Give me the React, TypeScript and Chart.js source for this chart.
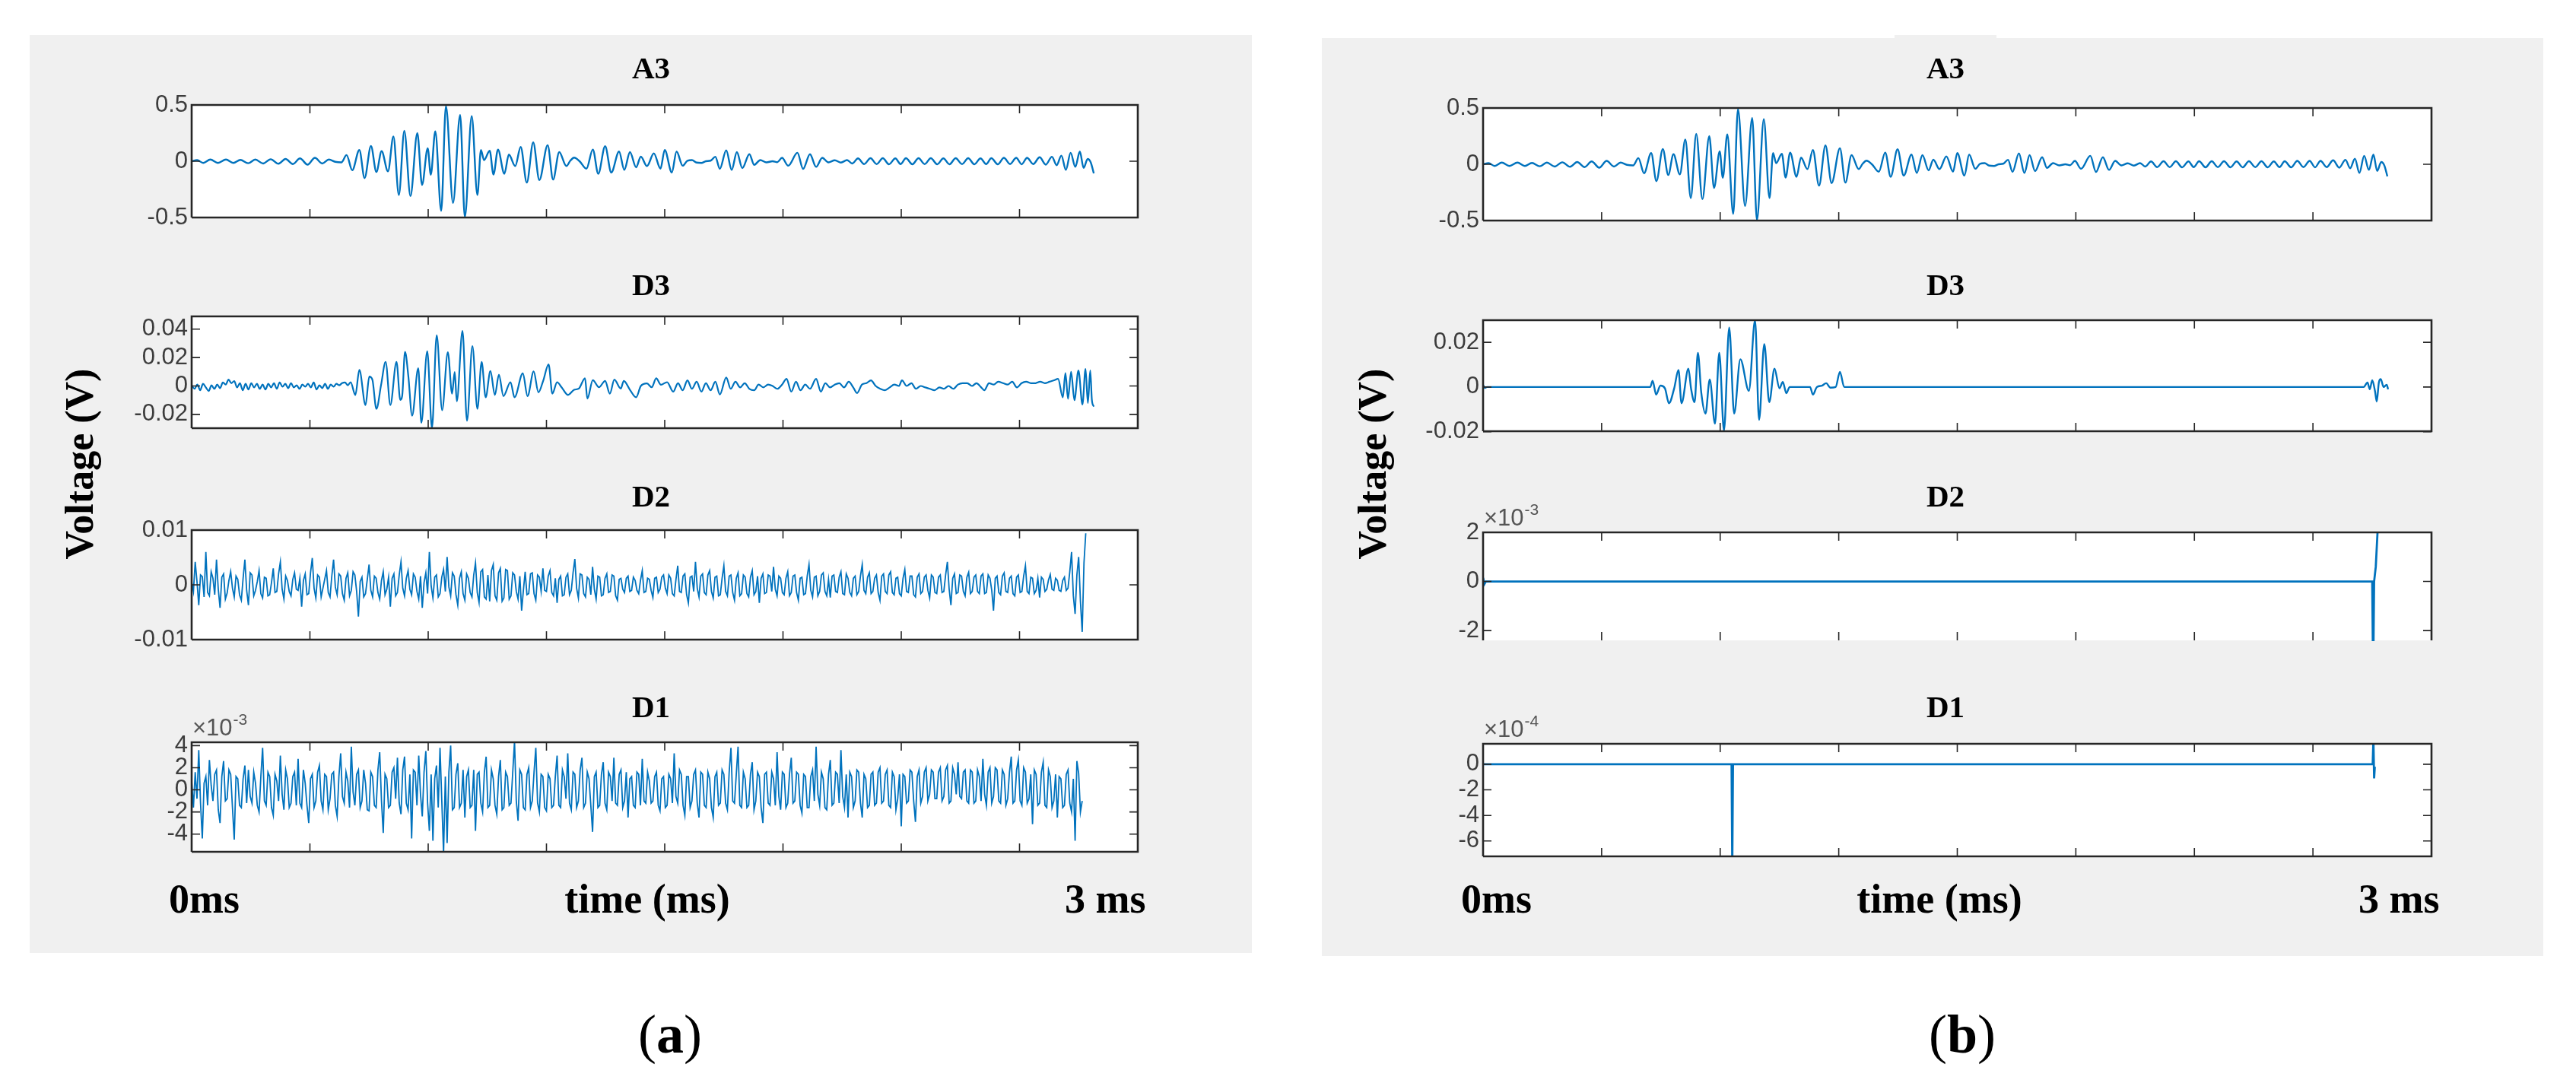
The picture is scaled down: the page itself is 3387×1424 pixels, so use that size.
import React, { useEffect, useRef } from 'react';
import { Chart, registerables } from 'chart.js';

Chart.register(...registerables);

// ---------- data ----------
// time axis in samples; MATLAB ticks every 500 samples
const xTickSamples = [0, 500, 1000, 1500, 2000, 2500, 3000, 3500, 4000];
const xMaxSamples = 4000;
const noiseStep = 7.5; // sample spacing of the noise series below

// A3 approximation (V): [sample, value]
const a3Samples: [number, number][] = [
  [0, 0], [23, 0.01], [49, -0.015], [79, 0.015], [111, -0.015], [145, 0.015], [176, -0.015], [206, 0.012], [239, -0.018], [269, 0.015],
  [302, -0.02], [334, 0.018], [367, -0.022], [397, 0.02], [428, -0.025], [458, 0.025], [490, -0.03], [521, 0.03], [552, -0.02], [580, 0.015],
  [607, -0.005], [633, -0.01], [655, 0.055], [679, -0.08], [709, 0.1], [731, -0.15], [758, 0.135], [781, -0.095], [803, 0.09], [830, -0.09],
  [853, 0.22], [876, -0.3], [899, 0.27], [925, -0.31], [954, 0.25], [974, -0.21], [998, 0.115], [1011, -0.12], [1030, 0.265], [1055, -0.44],
  [1075, 0.49], [1105, -0.37], [1135, 0.41], [1155, -0.495], [1184, 0.4], [1208, -0.3], [1223, 0.1], [1236, 0.01], [1260, 0.093], [1276, -0.118],
  [1295, 0.104], [1322, -0.111], [1341, 0.059], [1368, -0.043], [1391, 0.127], [1417, -0.19], [1444, 0.167], [1470, -0.167], [1505, 0.143], [1528, -0.163],
  [1554, 0.081], [1584, -0.043], [1601, 0.005], [1617, 0.032], [1640, 0], [1669, -0.066], [1696, 0.104], [1719, -0.111], [1748, 0.133], [1774, -0.1],
  [1807, 0.086], [1829, -0.077], [1853, 0.081], [1879, -0.054], [1899, 0.041], [1925, -0.043], [1954, 0.07], [1982, -0.066], [2000, 0.1], [2030, -0.1],
  [2050, 0.086], [2076, -0.04], [2096, 0.005], [2115, 0.01], [2135, -0.012], [2155, -0.015], [2174, 0], [2194, 0.005], [2214, 0.04], [2233, -0.068],
  [2260, 0.097], [2283, -0.077], [2305, 0.081], [2328, -0.061], [2358, 0.063], [2378, -0.032], [2404, 0.01], [2430, -0.01], [2456, 0], [2476, -0.008],
  [2496, 0.03], [2522, -0.04], [2561, 0.075], [2585, -0.068], [2614, 0.063], [2640, -0.05], [2666, 0.03], [2692, -0.01], [2719, 0.008], [2745, -0.012],
  [2771, 0.01], [2793, -0.02], [2817, 0.025], [2843, -0.025], [2870, 0.027], [2896, -0.025], [2922, 0.027], [2948, -0.027], [2975, 0.025], [2997, -0.025],
  [3020, 0.027], [3047, -0.027], [3073, 0.027], [3099, -0.025], [3125, 0.027], [3152, -0.027], [3178, 0.025], [3204, -0.027], [3230, 0.027], [3257, -0.025],
  [3283, 0.027], [3309, -0.027], [3335, 0.025], [3359, -0.025], [3381, 0.027], [3408, -0.027], [3434, 0.03], [3460, -0.025], [3486, 0.03], [3509, -0.027],
  [3532, 0.03], [3558, -0.025], [3585, 0.035], [3611, -0.03], [3637, 0.04], [3657, -0.035], [3677, 0.05], [3696, -0.077], [3716, 0.075], [3736, -0.05],
  [3755, 0.086], [3771, -0.06], [3788, 0.02], [3801, -0.01], [3814, -0.107],
];

// D3 detail, panel (a) (V)
const d3aSamples: [number, number][] = [
  [0, 0.0005], [12, -0.002], [24, 0.001], [36, -0.003], [48, 0.0015], [60, -0.001], [72, -0.0035], [84, 0.0005], [96, -0.002], [108, 0.001],
  [120, -0.0015], [132, 0.0025], [144, 0.001], [156, 0.0045], [168, 0.002], [180, 0.0035], [192, -0.001], [204, 0.002], [216, -0.003], [228, 0.0015],
  [240, -0.0025], [252, 0.002], [264, -0.001], [276, 0.0015], [288, -0.002], [300, 0.001], [312, -0.0025], [324, 0.0015], [336, -0.001], [348, 0.002],
  [360, -0.002], [372, 0.0025], [384, -0.0005], [396, 0.0015], [408, -0.0015], [420, 0.002], [432, -0.001], [444, 0.0005], [456, -0.002], [468, 0.001],
  [480, -0.0005], [492, 0.0015], [504, -0.001], [516, 0.0025], [528, -0.0025], [540, 0.0005], [552, -0.0015], [564, 0.0015], [576, -0.002], [588, 0.001],
  [600, -0.0005], [612, 0.0015], [624, 0.0005], [636, 0.002], [648, 0.0025], [660, 0.0005],
  [672, 0.0027], [692, -0.0063], [709, 0.0113], [735, -0.0134], [751, 0.0066], [764, 0.0045], [781, -0.0161], [801, 0.0009], [820, 0.017], [840, -0.0134],
  [866, 0.017], [882, -0.0098], [890, -0.0071], [902, 0.0241], [916, 0.0071], [932, -0.0209], [958, 0.0125], [971, -0.0259], [996, 0.0245], [1016, -0.0295],
  [1036, 0.0357], [1059, -0.017], [1083, 0.0238], [1101, -0.0054], [1112, 0.0098], [1121, -0.0107], [1145, 0.0388], [1164, -0.0245], [1187, 0.028], [1208, -0.0161],
  [1226, 0.017], [1243, -0.008], [1263, 0.0105], [1282, -0.0063], [1299, 0.008], [1318, -0.0071], [1348, 0.0027], [1365, -0.008], [1400, 0.0089], [1420, -0.0071],
  [1446, 0.0102], [1466, -0.0045], [1486, 0.0036], [1509, 0.0152], [1525, -0.0054], [1545, 0.0027], [1564, -0.0009], [1591, -0.0063], [1617, -0.0027], [1637, -0.0018],
  [1663, 0.0054], [1673, -0.0089], [1696, 0.0041], [1722, -0.0009], [1748, 0.0036], [1768, -0.0054], [1787, 0.0045], [1814, -0.0018], [1827, 0.0036], [1853, -0.0027],
  [1879, -0.008], [1899, 0], [1925, 0.0018], [1945, -0.0009], [1964, 0.0054], [1984, 0.0009], [2010, 0.0027], [2036, -0.004],
  [2056, 0.002], [2076, -0.003], [2096, 0.004], [2115, -0.002], [2135, 0.003], [2155, -0.004], [2174, 0.002], [2194, -0.003], [2214, 0.003], [2233, -0.006],
  [2260, 0.006], [2279, -0.002], [2299, 0.003], [2319, -0.001], [2338, 0.002], [2358, -0.002], [2378, -0.003], [2397, 0.001], [2417, -0.001], [2437, 0.001],
  [2456, 0], [2476, -0.002], [2496, 0.001], [2515, 0.005], [2535, -0.004], [2555, 0.003], [2574, -0.003], [2594, 0.001], [2614, -0.002], [2640, 0.005],
  [2660, -0.004], [2679, 0.002], [2699, -0.001], [2719, 0.001], [2738, 0.002], [2758, -0.001], [2778, 0.003], [2797, -0.001], [2813, -0.005], [2834, 0.001],
  [2853, 0.002], [2872, 0.004], [2892, 0], [2912, -0.002], [2931, -0.003], [2951, -0.001], [2971, 0.001], [2990, 0], [3003, 0.004], [3023, 0],
  [3043, 0.002], [3062, -0.002], [3082, 0], [3102, -0.001], [3121, -0.002], [3141, -0.003], [3161, -0.001], [3180, -0.002], [3200, 0], [3220, -0.002],
  [3240, 0.001], [3259, 0.002], [3279, 0.002], [3299, 0], [3318, 0.002], [3338, -0.001], [3351, -0.003], [3371, 0.002], [3391, 0.001], [3410, 0.003],
  [3430, 0.002], [3450, 0.001], [3469, 0.003], [3489, -0.001], [3509, 0.002], [3528, 0.003], [3548, 0.002], [3568, 0.002], [3587, 0.003], [3607, 0.002],
  [3627, 0.003], [3646, 0.004], [3663, 0.005], [3683, -0.008], [3694, 0.009], [3705, -0.009], [3718, 0.01], [3732, -0.01], [3749, 0.011], [3766, -0.013],
  [3779, 0.012], [3789, -0.012], [3799, 0.011], [3806, -0.01], [3814, -0.0145],
];

// D2 detail, panel (a), in mV, one value every noiseStep samples
const d2aMilliVolts = [
  0.5, -1.2, 4.2, 0.6, -3.7, 1.8, 1.5, -2.2, 6.0, -1.4, -2.0, 2.4, 1.2, -1.8, 4.6, -0.8, -4.2, 1.4, 2.0, -2.6,
  -1.5, 0.8, 2.4, -0.6, -2.2, 1.6, 1.0, -1.8, -2.8, 1.2, 4.6, -1.0, -3.7, 2.2, 1.8, -2.0, -1.0, 0.6, 2.6, -1.6,
  -2.4, 1.4, 1.2, -2.0, -1.8, 0.4, 3.0, -1.4, -1.2, 2.0, 4.2, -0.8, -2.6, 1.6, 0.8, -1.2, -2.0, 1.0, 2.2, -0.8,
  -1.0, 1.2, -4.0, 0.8, 2.0, -1.8, -1.6, 2.2, 4.9, -0.6, -2.4, 1.8, 1.4, -2.2, -0.6, 1.0, 2.6, -1.4, -2.2, 1.6,
  4.6, -0.4, -1.8, 2.0, 1.6, -1.6, -2.8, 1.2, 2.2, -2.0, -1.0, 2.4, 1.8, -1.2, -5.8, 0.6, 1.4, -2.2, -1.6, 1.0,
  3.7, -1.0, -2.2, 1.6, 1.2, -1.4, -2.6, 0.8, 2.4, -1.8, -0.8, 1.4, -4.0, 1.2, 2.0, -2.0, -1.4, 1.8, 4.2, -0.6,
  -2.0, 1.2, 2.6, -0.8, -1.8, 2.0, 1.4, -1.2, -2.6, 1.6, -4.2, 0.4, 2.2, -1.6, 6.0, -0.2, -2.4, 1.4, 1.8, -2.2,
  -1.6, 1.4, 2.8, -1.2, 5.1, -0.4, -2.0, 2.2, 1.6, -1.8, -3.7, 1.2, 2.4, -1.6, -2.8, 2.0, 1.2, -1.4, -2.2, 1.8,
  4.0, -1.4, -3.2, 2.4, 2.8, -2.2, -2.6, 1.8, -3.0, 2.6, 3.7, -2.0, -2.8, 2.2, 3.0, -3.0, -2.4, 2.8, 2.6, -2.6,
  -2.0, 2.2, 1.8, -1.2, -2.6, 1.6, -4.7, -1.0, 2.4, -1.8, -1.6, 2.0, 2.2, -1.6, -2.8, 1.8, 1.4, -1.2, 3.0, -1.0,
  -1.2, 1.6, 2.6, -1.4, -2.0, 1.2, -3.3, 1.0, 1.6, -2.0, -1.8, 1.4, 2.0, -1.8, -1.0, 2.2, 4.7, -0.6, -2.4, 2.0,
  1.8, -1.6, -2.2, 1.4, 1.0, -1.8, 3.3, -0.8, -2.6, 1.6, 1.4, -2.0, -1.8, 1.2, 2.0, -1.4, -1.2, 1.8, 1.6, -2.0,
  -2.8, 1.0, 1.2, -0.8, -1.4, 1.2, 1.6, -1.2, -1.0, 1.4, 0.8, -1.0, -1.6, 0.8, 2.6, -1.4, -1.2, 1.2, 1.0, -1.0,
  -2.3, 1.2, 1.4, -1.4, -0.8, 1.4, 1.8, -0.6, -1.6, 1.8, 1.2, -1.6, -2.0, 1.0, 3.5, -1.2, -1.4, 1.6, 2.0, -1.8,
  -3.3, 1.4, 1.6, -1.2, 4.2, -0.6, -2.2, 1.6, 2.0, -1.4, -1.8, 1.8, 2.6, -1.2, -2.4, 1.4, 1.6, -2.0, -1.8, 1.2,
  3.5, -1.2, -2.0, 1.6, 1.8, -1.4, -2.8, 1.2, 2.2, -2.0, -1.6, 1.8, 1.4, -1.6, -2.2, 1.4, 2.6, -1.8, -1.2, 1.6,
  -3.3, 1.2, 2.0, -1.6, -1.4, 1.8, 1.6, -1.2, 3.3, -0.8, -2.0, 1.6, 1.2, -1.4, -1.8, 1.2, 2.4, -2.0, -1.4, 1.6,
  1.8, -1.4, -2.8, 1.2, 1.4, -1.8, -1.6, 1.6, 3.7, -1.0, -2.2, 1.4, 1.6, -2.0, -1.2, 1.8, 2.2, -1.2, -2.0, 1.0,
  -2.3, 1.6, 1.8, -1.2, -1.4, 1.4, 2.4, -1.6, -1.8, 2.0, 1.2, -1.4, -2.0, 1.2, 1.6, -1.8, -1.2, 1.6, 3.7, -1.0,
  -1.6, 1.4, 2.2, -1.6, -1.2, 1.2, 1.8, -1.4, -2.8, 1.6, 2.0, -1.2, -1.6, 1.8, 2.4, -1.4, -1.8, 1.2, 1.4, -1.6,
  -2.0, 1.2, 2.8, -1.2, -1.4, 1.6, 1.6, -1.8, -2.2, 1.4, 2.0, -1.6, -1.2, 1.4, 1.8, -1.0, -2.4, 1.8, 1.4, -1.4,
  -1.6, 1.4, 1.8, -1.4, -1.2, 1.8, 4.2, -0.8, -3.7, 1.2, 2.0, -1.6, -1.4, 1.8, 1.6, -1.2, -2.0, 1.4, 2.3, -1.6,
  -1.2, 1.4, 1.8, -1.2, -1.6, 1.6, 2.0, -1.6, -1.4, 1.8, 1.2, -1.0, -4.7, 1.2, 1.6, -1.4, -1.8, 1.6, 2.2, -1.2,
  -1.4, 1.2, 1.6, -1.6, -2.0, 1.4, 1.8, -1.4, -1.2, 1.6, 3.5, -1.2, -1.6, 1.4, 1.2, -1.6, -1.0, 1.2, -2.3, 1.4,
  1.0, -1.2, -0.8, 0.9, 1.9, -0.8, -1.0, 1.2, 0.8, -1.0, -1.2, 0.8, 1.4, -1.0, -0.6, 2.4, 6.0, -2.0, -5.3, 1.8,
  5.1, -3.0, -8.6, 4.0, 9.4,
];

// D1 detail, panel (a), in units of 1e-3 V, one value every noiseStep samples
const d1aValuesE3 = [
  0.8, -1.6, 1.6, -0.8, 3.6, -1.2, -4.4, 0.6, 1.2, -1.4, 2.7, 0.4, -1.0, 1.4, 1.8, -1.8, -3.0, 1.2, 2.6, -1.0,
  -0.8, 1.8, 1.4, -1.6, -4.5, 1.2, 1.0, -1.4, -1.6, 1.0, 2.2, -1.2, 1.8, -0.6, -1.2, 1.6, 0.6, -1.4, -2.0, 1.2,
  3.8, -1.0, -1.4, 1.6, 1.2, -1.6, -2.3, 1.4, 0.8, -1.0, 3.1, -0.4, -1.8, 1.8, 1.0, -1.6, -1.2, 1.2, 1.6, -1.4,
  2.8, -1.2, -1.6, 1.8, 0.6, -1.4, -3.0, 1.0, 1.4, -1.6, -1.0, 1.6, 2.2, -1.0, -1.8, 1.4, 1.2, -1.8, -0.8, 1.4,
  1.6, -1.4, -2.4, 1.2, 3.3, -0.6, -1.2, 1.6, 0.8, -1.6, 3.9, -0.2, -1.4, 1.4, 1.8, -1.6, -1.0, 1.8, 0.6, -1.8,
  -1.9, 1.6, 1.2, -1.4, -1.6, 1.8, 3.4, -1.0, -3.9, 1.4, 1.0, -1.6, -1.4, 1.6, 2.0, -0.8, 2.9, -1.2, -2.2, 1.8,
  3.0, -1.2, -1.8, 1.4, -4.4, 1.8, 1.6, -1.4, 3.1, -0.4, -2.4, 1.6, 3.5, -1.2, -3.7, 1.4, -4.6, 1.0, 2.2, -1.6,
  3.8, -1.0, -5.7, 1.2, -4.8, 1.6, 4.0, -1.8, -1.6, 1.4, 2.4, -1.6, -1.2, 1.8, -2.5, 1.2, 1.8, -1.6, -1.4, 1.8,
  -3.7, 1.4, 1.6, -1.2, -2.0, 1.6, 3.0, -1.6, -1.4, 1.8, 1.0, -1.4, -2.2, 1.2, 2.7, -1.8, -1.6, 1.6, 1.2, -1.4,
  -1.2, 1.6, 4.4, -1.0, -2.8, 1.8, 1.4, -1.6, -1.8, 1.4, 2.0, -1.6, -1.0, 1.6, 3.8, -1.2, -2.0, 1.4, 1.2, -1.6,
  -1.9, 1.4, 1.0, -1.6, -1.4, 1.2, 3.1, -1.4, -1.6, 1.8, 1.2, -0.8, 3.3, -1.2, -1.8, 1.6, 1.4, -1.6, -1.0, 1.8,
  2.9, -1.6, -1.2, 1.6, 1.0, -1.4, -3.8, 1.2, 1.6, -1.6, -1.4, 1.4, 2.5, -1.2, -1.8, 1.6, 1.2, -1.0, 2.9, -1.2,
  -1.4, 1.4, 1.8, -1.6, -1.0, 1.6, -2.5, 1.0, 1.2, -1.4, -1.6, 1.6, 1.4, -1.4, 2.8, -1.0, -1.2, 1.6, 0.8, -1.2,
  -1.0, 1.2, 1.6, -1.4, -1.9, 1.0, 1.2, -1.6, -1.4, 1.4, 1.0, -1.2, 3.3, -0.6, -1.2, 1.8, 1.4, -1.4, -2.3, 1.2,
  1.2, -1.6, -1.0, 1.4, 1.8, -1.2, -2.5, 1.6, 1.4, -1.4, -1.6, 1.6, 1.0, -1.6, -2.5, 1.2, 1.6, -1.4, -1.2, 1.8,
  1.4, -1.2, -1.8, 1.6, 3.8, -1.0, -1.2, 1.4, 3.9, -1.4, -1.6, 1.6, 1.0, -1.6, -1.4, 1.4, 2.5, -1.8, -1.0, 1.6,
  1.2, -1.6, -3.0, 1.4, 1.6, -1.2, -1.4, 1.6, 1.0, -1.4, 3.4, -0.6, -1.8, 1.6, 1.4, -1.6, -1.2, 1.4, 2.9, -1.2,
  -1.0, 1.6, 1.4, -1.4, -2.1, 1.4, 1.2, -1.6, -1.6, 1.2, 1.8, -1.0, 3.9, -0.4, -1.4, 1.6, 1.0, -1.6, -1.8, 1.4,
  2.7, -1.4, -1.2, 1.6, 1.4, -1.2, 3.6, -0.6, -1.6, 1.4, -2.5, 1.6, 1.2, -1.6, -1.0, 1.8, 1.6, -1.2, -2.5, 1.4,
  1.0, -1.6, -1.4, 1.4, 1.6, -1.4, -1.2, 1.6, 2.0, -1.2, -1.0, 1.4, 1.8, -1.4, -1.6, 1.6, 1.2, -1.8, -0.8, 1.4,
  -3.3, 1.4, 1.2, -1.2, -1.0, 1.8, 1.6, -1.0, -2.9, 1.2, 1.8, -1.2, -0.6, 1.6, 2.0, -1.0, -0.4, 1.8, 1.6, -0.8,
  -0.8, 1.6, 2.0, -1.0, -0.6, 1.8, 2.2, -1.2, -1.0, 2.0, 1.4, -0.4, 2.5, -0.6, -0.8, 1.6, 1.8, -1.0, -1.2, 1.8,
  1.6, -1.2, -1.0, 1.8, 1.2, -1.0, 2.8, -0.4, -1.4, 1.6, 2.0, -1.2, -0.6, 2.0, 1.8, -1.0, -1.2, 1.8, 1.4, -1.4,
  -0.8, 1.6, 3.0, -1.2, -1.0, 1.8, 2.7, -1.0, -1.4, 2.0, 1.6, -1.2, -0.8, 1.4, -3.1, 1.8, 1.4, -1.4, -1.2, 1.6,
  2.5, -1.4, -1.6, 1.8, 1.2, -1.6, -1.0, 1.4, -2.5, 1.2, 1.0, -1.6, -1.4, 1.4, 1.8, -1.2, -2.0, 1.0, -4.6, 2.6,
  1.5, -2.0, -1.0,
];

// D3 detail, panel (b) (V)
const d3bSamples: [number, number][] = [
  [0, 0.0008], [8, -0.0004], [16, 0], [705, 0], [715, 0.0028], [730, -0.0034], [748, 0.0006], [767, -0.0006], [784, -0.0073], [806, -0.0006],
  [824, 0.0076], [837, -0.0073], [866, 0.0082], [877, -0.0006], [892, -0.0068], [906, 0.0153], [920, -0.0023], [938, -0.0119], [956, 0.0034], [978, -0.0164],
  [996, 0.0153], [1016, -0.0195], [1038, 0.0266], [1059, -0.0119], [1085, 0.0124], [1121, -0.0017], [1147, 0.0299], [1164, -0.0147], [1186, 0.0192], [1207, -0.0068],
  [1229, 0.0082], [1250, -0.0006], [1264, 0.0023], [1279, -0.0028], [1293, 0], [1379, 0], [1391, -0.0034], [1408, 0], [1429, 0.0006], [1447, 0.0017],
  [1465, -0.0003], [1487, 0], [1505, 0.0068], [1523, 0], [3714, 0], [3730, 0.002], [3740, -0.001], [3750, 0.003], [3762, -0.002], [3769, -0.0065],
  [3778, 0.002], [3786, 0.0035], [3798, 0], [3811, 0.001], [3817, -0.001],
];

// D2 detail, panel (b), in units of 1e-3 V
const d2bValuesE3: [number, number][] = [
  [0, 0.15], [6, -0.1], [12, 0], [3750, 0], [3754, -4], [3758, 0], [3765, 0.6], [3775, 2.5],
];

// D1 detail, panel (b), in units of 1e-4 V
const d1bValuesE4: [number, number][] = [
  [0, 0], [1048, 0], [1051, -8], [1054, 0], [3752, 0], [3755, 2], [3758, -1.1], [3761, -0.2],
];

// y tick values and labels
const a3Ticks = [0.5, 0, -0.5];
const a3TickLabels = ['0.5', '0', '-0.5'];
const d3aTicks = [0.04, 0.02, 0, -0.02];
const d3aTickLabels = ['0.04', '0.02', '0', '-0.02'];
const d2aTicks = [0.01, 0, -0.01];
const d2aTickLabels = ['0.01', '0', '-0.01'];
const d1aTicks = [4, 2, 0, -2, -4];
const d1aTickLabels = ['4', '2', '0', '-2', '-4'];
const d3bTicks = [0.02, 0, -0.02];
const d3bTickLabels = ['0.02', '0', '-0.02'];
const d2bTicks = [2, 0, -2];
const d2bTickLabels = ['2', '0', '-2'];
const d1bTicks = [0, -2, -4, -6];
const d1bTickLabels = ['0', '-2', '-4', '-6'];

// ---------- helpers ----------
type Pt = { x: number; y: number };
const fromPairs = (p: [number, number][]): Pt[] => p.map(([x, y]) => ({ x, y }));
const fromUniform = (vals: number[], scale: number): Pt[] => vals.map((v, i) => ({ x: i * noiseStep, y: v * scale }));

type SubCfg = {
  left: number; top: number; right: number; bottom: number;
  points: Pt[]; yMin: number; yMax: number;
  yTicks: number[]; yLabels: string[]; exponent?: string;
  lineWidth: number; smooth: boolean; noBottom?: boolean;
};

const PAD_L = 110, PAD_T = 48, PAD_R = 12, PAD_B = 24;
const FONT_SANS = '"Liberation Sans", Arial, Helvetica, sans-serif';
const FONT_SERIF = '"Liberation Serif", "Times New Roman", Times, serif';

function makeAxesPlugin(cfg: SubCfg) {
  return {
    id: 'matlabAxes',
    beforeDatasetsDraw(chart: any) {
      const { ctx, chartArea: a } = chart;
      ctx.save();
      ctx.fillStyle = '#ffffff';
      ctx.fillRect(a.left, a.top, a.right - a.left, a.bottom - a.top);
      ctx.restore();
    },
    afterDatasetsDraw(chart: any) {
      const { ctx, chartArea: a, scales } = chart;
      const xs = scales.x, ys = scales.y;
      ctx.save();
      ctx.strokeStyle = '#262626';
      ctx.lineWidth = 1.6;
      ctx.beginPath();
      for (const t of xTickSamples) {
        const px = xs.getPixelForValue(t);
        ctx.moveTo(px, a.top); ctx.lineTo(px, a.top + 11);
        ctx.moveTo(px, a.bottom); ctx.lineTo(px, a.bottom - 11);
      }
      for (const v of cfg.yTicks) {
        const py = ys.getPixelForValue(v);
        ctx.moveTo(a.left, py); ctx.lineTo(a.left + 11, py);
        ctx.moveTo(a.right, py); ctx.lineTo(a.right - 11, py);
      }
      ctx.stroke();
      ctx.lineWidth = 2.6;
      ctx.beginPath();
      ctx.moveTo(a.left, a.bottom);
      ctx.lineTo(a.left, a.top);
      ctx.lineTo(a.right, a.top);
      ctx.lineTo(a.right, a.bottom);
      if (!cfg.noBottom) ctx.lineTo(a.left, a.bottom);
      ctx.stroke();

      ctx.fillStyle = '#3c3c3c';
      ctx.font = `31px ${FONT_SANS}`;
      ctx.textAlign = 'right';
      ctx.textBaseline = 'middle';
      cfg.yTicks.forEach((v, i) => ctx.fillText(cfg.yLabels[i], a.left - 5, ys.getPixelForValue(v)));

      if (cfg.exponent) {
        ctx.textAlign = 'left';
        ctx.textBaseline = 'alphabetic';
        ctx.fillStyle = '#555555';
        ctx.font = `31px ${FONT_SANS}`;
        const base = a.top - 9;
        ctx.fillText('\u00d710', a.left + 1, base);
        const w = ctx.measureText('\u00d710').width;
        ctx.font = `21px ${FONT_SANS}`;
        ctx.fillText(cfg.exponent, a.left + 2 + w, base - 14);
      }
      ctx.restore();
    },
  };
}

function SubPlot({ cfg }: { cfg: SubCfg }) {
  const ref = useRef<HTMLCanvasElement>(null);
  const w = cfg.right - cfg.left + PAD_L + PAD_R;
  const h = cfg.bottom - cfg.top + PAD_T + PAD_B;
  useEffect(() => {
    if (!ref.current) return;
    const chart = new Chart(ref.current, {
      type: 'line',
      data: {
        datasets: [
          {
            data: cfg.points as any,
            borderColor: '#0072BD',
            borderWidth: cfg.lineWidth,
            pointRadius: 0,
            fill: false,
            tension: 0,
            cubicInterpolationMode: cfg.smooth ? 'monotone' : 'default',
            clip: 1,
          } as any,
        ],
      },
      options: {
        animation: false,
        responsive: false,
        maintainAspectRatio: false,
        devicePixelRatio: 1,
        events: [],
        layout: { padding: { left: PAD_L, top: PAD_T, right: PAD_R, bottom: PAD_B } },
        scales: {
          x: { type: 'linear', min: 0, max: xMaxSamples, display: false },
          y: { type: 'linear', min: cfg.yMin, max: cfg.yMax, display: false },
        },
        plugins: { legend: { display: false }, tooltip: { enabled: false }, title: { display: false } },
      },
      plugins: [makeAxesPlugin(cfg)],
    });
    return () => chart.destroy();
  }, [cfg]);
  return (
    <canvas
      ref={ref}
      width={w}
      height={h}
      style={{ position: 'absolute', left: cfg.left - PAD_L, top: cfg.top - PAD_T, width: w, height: h }}
    />
  );
}

// ---------- layout ----------
const subplots: SubCfg[] = [
  // panel (a)
  { left: 252, right: 1496, top: 138, bottom: 286, points: fromPairs(a3Samples), yMin: -0.5, yMax: 0.5, yTicks: a3Ticks, yLabels: a3TickLabels, lineWidth: 2.4, smooth: true },
  { left: 252, right: 1496, top: 416, bottom: 563, points: fromPairs(d3aSamples), yMin: -0.0297, yMax: 0.049, yTicks: d3aTicks, yLabels: d3aTickLabels, lineWidth: 2.2, smooth: true },
  { left: 252, right: 1496, top: 697, bottom: 841, points: fromUniform(d2aMilliVolts, 0.001), yMin: -0.01, yMax: 0.01, yTicks: d2aTicks, yLabels: d2aTickLabels, lineWidth: 1.8, smooth: false },
  { left: 252, right: 1496, top: 976, bottom: 1120, points: fromUniform(d1aValuesE3, 1), yMin: -5.6, yMax: 4.3, yTicks: d1aTicks, yLabels: d1aTickLabels, exponent: '-3', lineWidth: 1.8, smooth: false },
  // panel (b)
  { left: 1950, right: 3197, top: 142, bottom: 290, points: fromPairs(a3Samples), yMin: -0.5, yMax: 0.5, yTicks: a3Ticks, yLabels: a3TickLabels, lineWidth: 2.4, smooth: true },
  { left: 1950, right: 3197, top: 421, bottom: 567, points: fromPairs(d3bSamples), yMin: -0.0198, yMax: 0.0299, yTicks: d3bTicks, yLabels: d3bTickLabels, lineWidth: 2.4, smooth: true },
  { left: 1950, right: 3197, top: 700, bottom: 842, points: fromPairs(d2bValuesE3), yMin: -2.4, yMax: 2.0, yTicks: d2bTicks, yLabels: d2bTickLabels, exponent: '-3', lineWidth: 2.8, smooth: false, noBottom: true },
  { left: 1950, right: 3197, top: 978, bottom: 1126, points: fromPairs(d1bValuesE4), yMin: -7.2, yMax: 1.6, yTicks: d1bTicks, yLabels: d1bTickLabels, exponent: '-4', lineWidth: 2.8, smooth: false },
];

type Txt = { text: React.ReactNode; x: number; y: number; size: number; align: 'center' | 'left'; rotate?: boolean; bold?: boolean };

const subplotTitles = ['A3', 'D3', 'D2', 'D1'];
const titleYs = [89, 374, 652, 929];

const texts: Txt[] = [
  ...subplotTitles.map((t, i) => ({ text: t, x: 856, y: titleYs[i], size: 41, align: 'center' as const, bold: true })),
  ...subplotTitles.map((t, i) => ({ text: t, x: 2558, y: titleYs[i], size: 41, align: 'center' as const, bold: true })),
  { text: 'Voltage (V)', x: 105, y: 610, size: 52, align: 'center', rotate: true, bold: true },
  { text: 'Voltage (V)', x: 1805, y: 610, size: 52, align: 'center', rotate: true, bold: true },
  { text: '0ms', x: 222, y: 1182, size: 54, align: 'left', bold: true },
  { text: 'time (ms)', x: 851, y: 1182, size: 54, align: 'center', bold: true },
  { text: '3 ms', x: 1400, y: 1182, size: 54, align: 'left', bold: true },
  { text: '0ms', x: 1921, y: 1182, size: 54, align: 'left', bold: true },
  { text: 'time (ms)', x: 2550, y: 1182, size: 54, align: 'center', bold: true },
  { text: '3 ms', x: 3101, y: 1182, size: 54, align: 'left', bold: true },
  { text: <span>(<b>a</b>)</span>, x: 881, y: 1360, size: 72, align: 'center', bold: false },
  { text: <span>(<b>b</b>)</span>, x: 2580, y: 1360, size: 72, align: 'center', bold: false },
];

export default function App() {
  return (
    <div style={{ position: 'absolute', left: 0, top: 0, width: 3387, height: 1424, background: '#ffffff', overflow: 'hidden' }}>
      <div style={{ position: 'absolute', left: 39, top: 46, width: 1607, height: 1207, background: '#f0f0f0' }} />
      <div style={{ position: 'absolute', left: 1738, top: 50, width: 1606, height: 1207, background: '#f0f0f0' }} />
      <div style={{ position: 'absolute', left: 2491, top: 46, width: 134, height: 4, background: '#f0f0f0' }} />
      {subplots.map((cfg, i) => (
        <SubPlot key={i} cfg={cfg} />
      ))}
      {texts.map((t, i) => (
        <div
          key={i}
          style={{
            position: 'absolute',
            left: t.x,
            top: t.y,
            fontFamily: FONT_SERIF,
            fontSize: t.size,
            fontWeight: t.bold ? 700 : 400,
            lineHeight: 1,
            whiteSpace: 'nowrap',
            color: '#000',
            transform: t.rotate
              ? 'translate(-50%, -50%) rotate(-90deg)'
              : t.align === 'center'
              ? 'translate(-50%, -50%)'
              : 'translate(0, -50%)',
          }}
        >
          {t.text}
        </div>
      ))}
    </div>
  );
}
